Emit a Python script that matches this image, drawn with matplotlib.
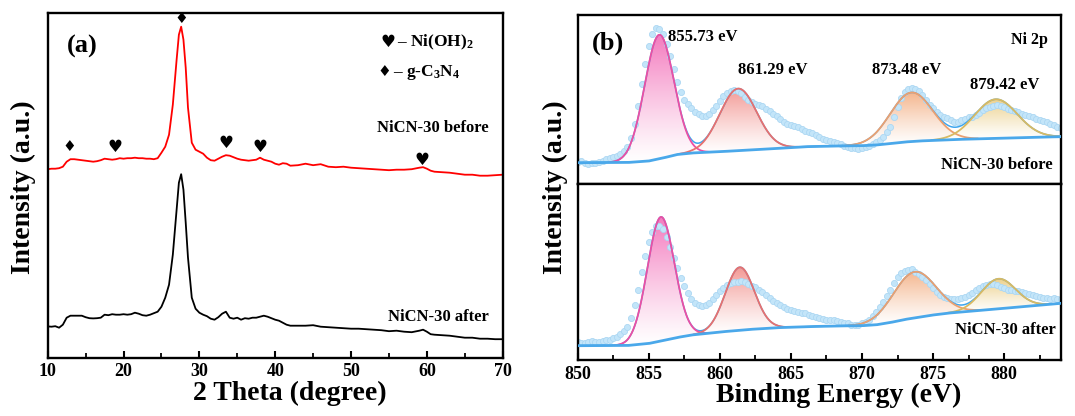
import numpy as np
import matplotlib
matplotlib.use("Agg")
import matplotlib.pyplot as plt
from matplotlib.patches import Polygon
from matplotlib.colors import LinearSegmentedColormap
from matplotlib.ticker import MultipleLocator

plt.rcParams['font.family'] = ['Liberation Serif', 'DejaVu Sans']
plt.rcParams['font.weight'] = 'bold'
plt.rcParams['mathtext.fontset'] = 'custom'
plt.rcParams['mathtext.rm'] = 'Liberation Serif:bold'
plt.rcParams['mathtext.it'] = 'Liberation Serif:bold'
plt.rcParams['mathtext.bf'] = 'Liberation Serif:bold'

# ---------------- XRD data (a) ----------------
two_theta = [10.0, 10.5, 11.0, 11.5, 12.0, 12.5, 13.0, 13.5, 14.0, 14.5, 15.0, 15.5, 16.0, 16.5,
             17.0, 17.5, 18.0, 18.5, 19.0, 19.5, 20.0, 20.5, 21.0, 21.5, 22.0, 22.5, 23.0, 23.5,
             24.0, 24.5, 25.0, 25.5, 26.0, 26.5, 27.0, 27.3, 27.6, 27.9, 28.2, 28.5, 29.0, 29.5,
             30.0, 30.5, 31.0, 31.5, 32.0, 32.5, 33.0, 33.5, 34.0, 34.5, 35.0, 35.5, 36.0, 36.5,
             37.0, 37.5, 38.0, 38.5, 39.0, 39.5, 40.0, 40.5, 41.0, 41.5, 42.0, 43.0, 44.0, 45.0,
             46.0, 47.0, 48.0, 49.0, 50.0, 51.0, 52.0, 53.0, 54.0, 55.0, 56.0, 57.0, 58.0, 59.0,
             59.5, 60.0, 60.5, 61.0, 62.0, 63.0, 64.0, 65.0, 66.0, 67.0, 68.0, 69.0, 70.0]
xrd_before = [188.5, 189, 189, 189.5, 191, 196, 198.5, 198.5, 198, 197.5, 197, 196.5, 196, 196.5,
              197.5, 199, 198.5, 198, 198.5, 199.5, 199, 199.5, 199.5, 200, 199.5, 199.5, 199, 199,
              198.5, 199.5, 205, 211, 223, 253, 298, 323, 331, 318, 290, 250, 215, 208,
              206, 204, 200, 197.5, 197, 199, 201, 202.5, 202, 200.5, 199, 198, 197.5, 197,
              197.5, 198, 200, 198, 197, 196, 194, 193, 194.5, 194, 192, 192.5, 194, 192.5,
              193.5, 191, 190.5, 191, 190, 189.5, 189, 188.5, 188, 187.5, 188, 188, 188.5, 190,
              190.5, 189, 187, 186, 185.5, 185, 184, 183, 183, 182, 182, 182.5, 183]
xrd_after = [31.3, 31, 31.5, 30, 33, 40, 42, 42, 42, 42, 40.5, 39.5, 39.3, 39.5,
             40, 43, 42.5, 43.5, 43, 43, 43.5, 43, 43.5, 45, 44, 42.5, 42, 43,
             44.5, 46, 51, 60, 73, 103, 148, 175, 183.5, 168, 135, 100, 60, 49,
             45, 43, 41.5, 39, 38, 40.5, 44, 46, 40, 39, 40, 38, 39.5, 39,
             40, 40, 41, 42, 41, 39.5, 38, 37, 35, 33, 32, 32, 32, 32.5,
             31, 30.5, 30, 29.5, 29, 29, 28.5, 28, 27.5, 26.5, 27, 26, 25.5, 27,
             28, 26, 23.5, 23, 22.5, 22, 21, 20, 20, 19, 19, 18.5, 18.5]
xrd_labels = ["NiCN-30 before", "NiCN-30 after"]

diamond_pos = [12.9, 27.6]
diamond_height = [211, 339]
heart_pos = [18.9, 33.5, 38.0, 59.3]
heart_height = [211, 215, 211, 198]

# ---------------- XPS data (b) ----------------
xps_energy = [850.0, 850.25, 850.5, 850.75, 851.0, 851.25, 851.5, 851.75, 852.0, 852.25, 852.5, 852.75,
              853.0, 853.25, 853.5, 853.75, 854.0, 854.25, 854.5, 854.75, 855.0, 855.25, 855.5, 855.75,
              856.0, 856.25, 856.5, 856.75, 857.0, 857.25, 857.5, 857.75, 858.0, 858.25, 858.5, 858.75,
              859.0, 859.25, 859.5, 859.75, 860.0, 860.25, 860.5, 860.75, 861.0, 861.25, 861.5, 861.75,
              862.0, 862.25, 862.5, 862.75, 863.0, 863.25, 863.5, 863.75, 864.0, 864.25, 864.5, 864.75,
              865.0, 865.25, 865.5, 865.75, 866.0, 866.25, 866.5, 866.75, 867.0, 867.25, 867.5, 867.75,
              868.0, 868.25, 868.5, 868.75, 869.0, 869.25, 869.5, 869.75, 870.0, 870.25, 870.5, 870.75,
              871.0, 871.25, 871.5, 871.75, 872.0, 872.25, 872.5, 872.75, 873.0, 873.25, 873.5, 873.75,
              874.0, 874.25, 874.5, 874.75, 875.0, 875.25, 875.5, 875.75, 876.0, 876.25, 876.5, 876.75,
              877.0, 877.25, 877.5, 877.75, 878.0, 878.25, 878.5, 878.75, 879.0, 879.25, 879.5, 879.75,
              880.0, 880.25, 880.5, 880.75, 881.0, 881.25, 881.5, 881.75, 882.0, 882.25, 882.5, 882.75,
              883.0, 883.25, 883.5, 883.75, 884.0]
xps_before = [22.3, 23, 21.3, 20.5, 20.7, 21.5, 22.3, 23.5, 24.7, 26, 27.3, 28,
              30, 33, 37.3, 46, 60, 78, 100, 120, 138, 150, 156, 155,
              150, 140, 128, 115, 102, 92, 84, 80, 76, 72, 70, 68.5,
              68, 70, 74, 78, 83, 88, 91, 93, 94, 93, 91, 87,
              84, 82, 80, 79, 78, 75, 73, 70, 68, 65, 62, 60,
              59, 58, 57, 55, 53, 52, 51, 49, 47, 45, 44, 43,
              42.3, 41, 40, 38.5, 37.3, 36, 35.7, 35.5, 36.3, 37, 38, 40,
              42.3, 44.5, 47.3, 52, 57.3, 67, 77.3, 86, 92.3, 95, 95.7, 95,
              93.3, 89, 84, 79.5, 75.7, 72, 69, 67, 65.7, 64, 62.3, 62.5,
              64, 65.5, 66.7, 67.5, 69, 71.5, 74, 76, 77.3, 78.5, 79, 78,
              76.7, 75.5, 74, 73, 72.3, 70.5, 69, 68, 67.3, 65.5, 64, 63,
              62.3, 60.5, 59, 57, 55.7]
xps_after = [18.3, 17, 16.7, 18, 19, 18.5, 18.3, 19, 20, 20.5, 21.7, 23.5,
             26, 29, 33.3, 42, 55, 70, 88, 104, 118, 128, 134, 134,
             131, 123, 113, 102, 92, 82, 74, 67, 61, 57, 55, 54.5,
             55, 57.5, 61, 65, 69, 72.5, 75, 77, 78, 78.5, 79, 78,
             76, 74.5, 73, 70.5, 68.3, 65, 62, 59.5, 57, 55, 53.3, 51.5,
             50, 49, 48.3, 47.5, 46.7, 45.5, 44, 43, 41.7, 41, 40, 40.5,
             40, 39, 38.3, 37.5, 36.7, 35.5, 35, 35.5, 36.7, 38, 40, 44,
             48.3, 53, 58.3, 64, 70, 77, 83.3, 87, 89.3, 90.5, 90.7, 88.5,
             86, 83, 80, 76, 71.7, 68, 65, 63, 61.7, 61, 60.7, 61,
             61.7, 63, 65, 67.5, 70, 72, 74, 75.5, 76, 76, 75, 73,
             71.7, 70.5, 70, 69.5, 69.3, 68, 67.3, 66, 65, 64, 63.3, 62.5,
             61.7, 61.5, 61.7, 61, 60.7]

bg_energy = [850, 853.5, 855, 856, 857, 858, 860, 862, 864, 866, 868, 870, 871, 872, 873, 874,
             875, 876, 877, 878, 880, 882, 884]
bg_before = [21.3, 21.5, 23, 26, 29.5, 31, 32.3, 34, 35.5, 37.3, 38, 38.3, 39, 40.5, 42, 43,
             43.6, 44.2, 44.7, 45.1, 46, 46.8, 47.3]
bg_after = [14.3, 14.5, 16.5, 19.5, 22.5, 25, 28, 30.5, 32.3, 33.3, 34, 34.3, 35.2, 37.5, 40.5, 42.8,
            45, 46.8, 48, 49.3, 51.7, 54.2, 56.7]

# fitted components: centre (eV), height above background, gaussian sigma (eV)
peak_labels = ["855.73 eV", "861.29 eV", "873.48 eV", "879.42 eV"]
center_before = [855.73, 861.29, 873.48, 879.42]
height_before = [124, 62, 49, 39]
sigma_before = [1.03, 1.3, 1.5, 1.5]
center_after = [855.85, 861.4, 873.7, 879.6]
height_after = [124, 63, 46, 30]
sigma_after = [0.95, 1.02, 1.5, 1.2]

comp_line = ['#ec4fa3', '#e8706e', '#eba070', '#d9ba62']
comp_fill = ['#f47cbf', '#f39a96', '#f4b68e', '#ecd08a']

# ---------------- figure ----------------
W, H = 1075, 416
fig = plt.figure(figsize=(W / 100, H / 100), dpi=100)


def fx(x):
    return x / W


def fy(y):
    return 1 - y / H


axL = fig.add_axes([fx(47.7), fy(357.7), fx(502.7 - 47.7), (357.7 - 13.3) / H])
axT = fig.add_axes([fx(577.7), fy(184), fx(1061 - 577.7), (184 - 15.3) / H])
axB = fig.add_axes([fx(577.7), fy(360), fx(1061 - 577.7), (360 - 184) / H])

for ax in (axL, axT, axB):
    for s in ax.spines.values():
        s.set_linewidth(1.7)

# (a) XRD
axL.plot(two_theta, xrd_before, color='#ff0000', lw=1.3)
axL.plot(two_theta, xrd_after, color='black', lw=1.3)
axL.set_xlim(10, 70)
axL.set_ylim(0, 344.4)
axL.xaxis.set_major_locator(MultipleLocator(10))
axL.xaxis.set_minor_locator(MultipleLocator(5))
axL.tick_params(axis='x', which='major', direction='in', length=5, width=1.5, labelsize=13, pad=4)
axL.tick_params(axis='x', which='minor', direction='in', length=3.5, width=1.3)
axL.tick_params(axis='y', left=False, labelleft=False)
for lab in axL.get_xticklabels():
    lab.set_fontweight('bold')
for p, h in zip(diamond_pos, diamond_height):
    axL.text(p, h, '\u2666', ha='center', va='center', fontsize=11, family='DejaVu Sans')
for p, h in zip(heart_pos, heart_height):
    axL.text(p, h, '\u2665', ha='center', va='center', fontsize=12, family='DejaVu Sans')

fig.text(fx(82), fy(46), '(a)', fontsize=19, fontweight='bold', ha='center', va='center')
fig.text(fx(388), fy(42), '\u2665', fontsize=12, ha='center', va='center', family='DejaVu Sans')
fig.text(fx(397), fy(42), '\u2013 Ni(OH)$_2$', fontsize=12.5, fontweight='bold', ha='left', va='center')
fig.text(fx(384), fy(72), '\u2666', fontsize=11, ha='center', va='center', family='DejaVu Sans')
fig.text(fx(393), fy(72), '\u2013 g-C$_3$N$_4$', fontsize=12.5, fontweight='bold', ha='left', va='center')
fig.text(fx(433), fy(128), xrd_labels[0], fontsize=12, fontweight='bold', ha='center', va='center')
fig.text(fx(438), fy(317), xrd_labels[1], fontsize=12, fontweight='bold', ha='center', va='center')
fig.text(fx(290), fy(393), '2 Theta (degree)', fontsize=20, fontweight='bold', ha='center', va='center')
fig.text(fx(23), fy(187), 'Intensity (a.u.)', fontsize=20, fontweight='bold', ha='center', va='center',
         rotation=90)


# (b) XPS
E = np.linspace(850, 884, 800)


def draw_xps(ax, energy, counts, bg_vals, centers, heights, sigmas, ylim):
    base = np.interp(E, bg_energy, bg_vals)
    comps = [h * np.exp(-(E - c) ** 2 / (2 * s ** 2)) for c, h, s in zip(centers, heights, sigmas)]
    for i, g in enumerate(comps):
        top = base + g
        m = g > 0.4
        xs = E[m]
        verts = np.vstack([np.column_stack([xs, top[m]]), np.column_stack([xs[::-1], base[m][::-1]])])
        poly = Polygon(verts, closed=True, facecolor='none', edgecolor='none')
        ax.add_patch(poly)
        cmap = LinearSegmentedColormap.from_list('g%d' % i, ['#ffffff', comp_fill[i]])
        grad = np.linspace(0, 1, 256).reshape(-1, 1) ** 1.2
        im = ax.imshow(grad, extent=[xs.min(), xs.max(), base[m].min(), top.max()], origin='lower',
                       cmap=cmap, aspect='auto', zorder=1, interpolation='bilinear')
        im.set_clip_path(poly)
        ax.plot(xs, top[m], color=comp_line[i], lw=1.3, zorder=4)
    ax.plot(energy, counts, 'o', ms=4.4, mfc='#c3e5f9', mec='#acd7f3', mew=0.6, zorder=2)
    envelope = base + np.sum(comps, axis=0)
    ax.plot(E, envelope, color='#3ea6ee', lw=1.1, zorder=3)
    ax.plot(E, base, color='#4aa8ea', lw=2.0, zorder=5)
    ax.set_xlim(850, 884)
    ax.set_ylim(*ylim)
    ax.tick_params(axis='y', left=False, labelleft=False)


draw_xps(axT, xps_energy, xps_before, bg_before, center_before, height_before, sigma_before, (0, 168.7))
draw_xps(axB, xps_energy, xps_after, bg_after, center_after, height_after, sigma_after, (0, 176))
axT.tick_params(axis='x', bottom=False, labelbottom=False)
axB.xaxis.set_major_locator(MultipleLocator(5))
axB.xaxis.set_minor_locator(MultipleLocator(2.5))
axB.tick_params(axis='x', which='major', direction='in', length=5, width=1.5, labelsize=13, pad=4)
axB.tick_params(axis='x', which='minor', direction='in', length=3.5, width=1.3)
for lab in axB.get_xticklabels():
    lab.set_fontweight('bold')

fig.text(fx(608), fy(43), '(b)', fontsize=19, fontweight='bold', ha='center', va='center')
fig.text(fx(1029), fy(40), 'Ni 2p', fontsize=11.5, fontweight='bold', ha='center', va='center')
label_xy = [(703, 37), (773, 70), (907, 70), (1005, 85)]
for (lx, ly), t in zip(label_xy, peak_labels):
    fig.text(fx(lx), fy(ly), t, fontsize=12, fontweight='bold', ha='center', va='center')
fig.text(fx(997), fy(165), xrd_labels[0], fontsize=12, fontweight='bold', ha='center', va='center')
fig.text(fx(1005), fy(330), xrd_labels[1], fontsize=12, fontweight='bold', ha='center', va='center')
fig.text(fx(839), fy(395), 'Binding Energy (eV)', fontsize=20, fontweight='bold', ha='center', va='center')
fig.text(fx(555), fy(187), 'Intensity (a.u.)', fontsize=20, fontweight='bold', ha='center', va='center',
         rotation=90)

fig.savefig('out.png', dpi=100)
